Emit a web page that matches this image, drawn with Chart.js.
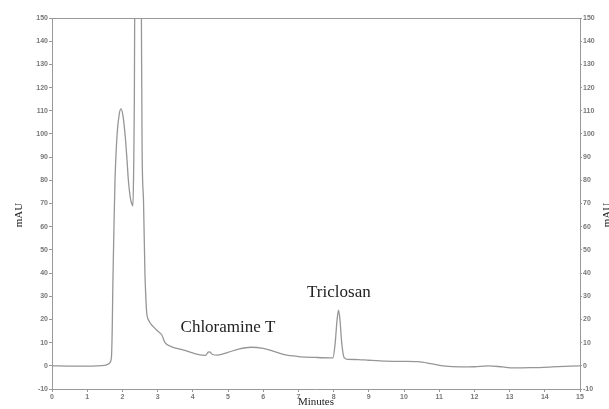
<!DOCTYPE html>
<html>
<head>
<meta charset="utf-8">
<script src="https://cdn.jsdelivr.net/npm/chart.js@4"></script>
<style>
  html, body { margin: 0; padding: 0; background: #fff; }
  #wrap { width: 609px; height: 409px; position: relative; }
</style>
</head>
<body>
<div id="wrap"><canvas id="chromChart"></canvas></div>
<script>
// retention time (min) and absorbance (mAU)
const times = [0, 0.5, 1.0, 1.5, 1.6, 1.65, 1.69, 1.71, 1.73, 1.76, 1.79, 1.85, 1.91, 1.96, 2.02, 2.08, 2.13, 2.17, 2.23,
  2.28, 2.3, 2.32, 2.34, 2.36, 2.45, 2.52, 2.54, 2.56, 2.6, 2.64, 2.67, 2.69, 2.75, 2.87, 3.0, 3.12, 3.21, 3.4, 3.72,
  4.2, 4.36, 4.44, 4.48, 4.55, 4.7, 5.0, 5.3, 5.65, 6.0, 6.3, 6.6, 7.0, 7.5, 7.98, 8.04, 8.1, 8.14, 8.18, 8.23, 8.3,
  8.4, 8.7, 9.0, 9.5, 10.0, 10.4, 10.8, 11.1, 11.6, 12.0, 12.4, 12.8, 13.1, 13.6, 14.2, 15.0];
const absorbance = [0, -0.1, -0.1, 0.2, 0.8, 1.5, 4, 15, 36, 60, 80, 100, 108.5, 110.8, 107.5, 99, 89, 80, 72,
  69.5, 69, 85, 115, 200, 600, 200, 150, 93, 71, 40, 28, 23, 19.5, 17, 15, 13.3, 10, 8.2, 6.9,
  4.7, 4.5, 5.9, 6, 5, 4.6, 5.8, 7.2, 8, 7.5, 6.2, 4.8, 4, 3.6, 3.4, 9, 20, 24, 20, 10, 3.5,
  2.8, 2.7, 2.4, 2, 1.9, 1.8, 0.8, 0, -0.5, -0.4, 0, -0.5, -0.9, -0.8, -0.5, 0];

const peakNames = ['Chloramine T', 'Triclosan'];
const peakLabelX = [5.0, 8.15];
const peakLabelY = [16.3, 31.8];

const axisGray = '#999';
const tickFont = { family: 'Liberation Sans', size: 7, weight: 'bold' };

const textPlugin = {
  id: 'chromText',
  afterDraw(chart) {
    const { ctx, chartArea, scales } = chart;
    ctx.save();
    // top frame line
    ctx.strokeStyle = axisGray;
    ctx.lineWidth = 1;
    ctx.beginPath();
    ctx.moveTo(chartArea.left, chartArea.top + 0.5);
    ctx.lineTo(chartArea.right, chartArea.top + 0.5);
    ctx.stroke();

    ctx.fillStyle = '#222';
    ctx.textAlign = 'center';
    ctx.textBaseline = 'middle';
    ctx.font = '17px "Liberation Serif"';
    peakNames.forEach((name, i) => {
      ctx.fillText(name, scales.x.getPixelForValue(peakLabelX[i]), scales.y.getPixelForValue(peakLabelY[i]));
    });

    ctx.font = '11px "Liberation Serif"';
    [19, 607].forEach(px => {
      ctx.save();
      ctx.translate(px, 215);
      ctx.rotate(-Math.PI / 2);
      ctx.fillText('mAU', 0, 0);
      ctx.restore();
    });
    ctx.restore();
  }
};

new Chart(document.getElementById('chromChart'), {
  type: 'line',
  data: {
    datasets: [{
      data: times.map((t, i) => ({ x: t, y: absorbance[i] })),
      borderColor: '#969696',
      borderWidth: 1.3,
      pointRadius: 0,
      cubicInterpolationMode: 'monotone',
      fill: false
    }]
  },
  options: {
    responsive: true,
    maintainAspectRatio: false,
    animation: false,
    layout: { padding: { top: 18, left: 0, right: 0, bottom: 0 } },
    plugins: { legend: { display: false }, tooltip: { enabled: false } },
    scales: {
      x: {
        type: 'linear',
        min: 0,
        max: 15,
        afterFit: s => { s.height = 20; },
        ticks: { stepSize: 1, font: tickFont, color: '#777', padding: 1, maxRotation: 0 },
        grid: { drawOnChartArea: false, tickLength: 3, color: axisGray },
        border: { color: axisGray },
        title: { display: true, text: 'Minutes', font: { family: 'Liberation Serif', size: 11 }, color: '#222', padding: 0 }
      },
      y: {
        position: 'left',
        min: -10,
        max: 150,
        afterFit: s => { s.width = 52; },
        ticks: { stepSize: 10, font: tickFont, color: '#777', padding: 1 },
        grid: { drawOnChartArea: false, tickLength: 3, color: axisGray },
        border: { color: axisGray }
      },
      y2: {
        position: 'right',
        min: -10,
        max: 150,
        afterFit: s => { s.width = 29; },
        ticks: { stepSize: 10, font: tickFont, color: '#777', padding: 1 },
        grid: { drawOnChartArea: false, tickLength: 2, color: axisGray },
        border: { color: axisGray }
      }
    }
  },
  plugins: [textPlugin]
});
</script>
</body>
</html>
